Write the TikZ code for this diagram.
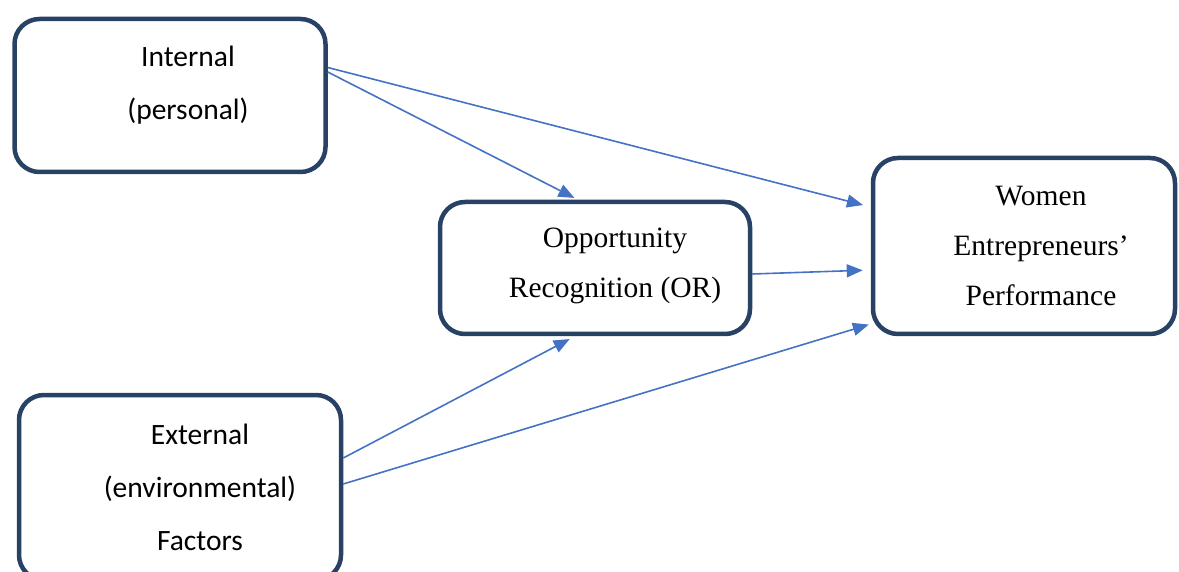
\documentclass[tikz,border=0pt]{standalone}
\usepackage{fontspec}
\newfontfamily\carlito{Carlito}
\newfontfamily\timesnr{Liberation Serif}
\usetikzlibrary{arrows.meta}
\definecolor{boxline}{RGB}{40,66,102}
\definecolor{arrowblue}{RGB}{68,114,196}

\begin{document}
\begin{tikzpicture}[x=1pt,y=-1pt,->,>={Triangle[length=16pt,width=13pt]},shorten >=6pt,
  main node/.style={draw=boxline,line width=4.5pt,rounded corners=25pt,fill=white,inner sep=0pt},
  calibri text/.style={align=center,font=\carlito\fontsize{29.5}{53}\selectfont},
  times text/.style={align=center,font=\timesnr\fontsize{29.5}{50}\selectfont}]
  \useasboundingbox (0,0) rectangle (1179,572);
  \clip (0,0) rectangle (1179,572);

  \node[main node,minimum width=311pt,minimum height=153pt,
        label={[calibri text,xshift=18pt,yshift=10pt]center:Internal\\(personal)}] (int) at (170,95.5) {};
  \node[main node,minimum width=322pt,minimum height=185pt,
        label={[calibri text,xshift=20pt]center:External\\(environmental)\\Factors}] (ext) at (180,487.5) {};
  \node[main node,minimum width=310pt,minimum height=132pt,
        label={[times text,xshift=20pt,yshift=2pt]center:Opportunity\\Recognition (OR)}] (or) at (595,268) {};
  \node[main node,minimum width=302pt,minimum height=176pt,
        label={[times text,xshift=17pt]center:Women\\Entrepreneurs’\\Performance}] (wep) at (1024,246) {};

  \path[arrowblue,line width=1.6pt]
        ([yshift=28pt]int.east) edge[shorten >=8pt] ([yshift=39pt]wep.west)
        ([yshift=23.5pt]int.east) edge[shorten >=4pt] ([xshift=-17pt]or.north)
        ([yshift=-6pt]or.east) edge[shorten >=8pt] ([yshift=-24pt]wep.west)
        ([yshift=29.5pt]ext.east) edge ([xshift=-20pt]or.south)
        ([yshift=3.5pt]ext.east) edge[shorten >=2pt] ([yshift=-78pt]wep.west);

\end{tikzpicture}
\end{document}
